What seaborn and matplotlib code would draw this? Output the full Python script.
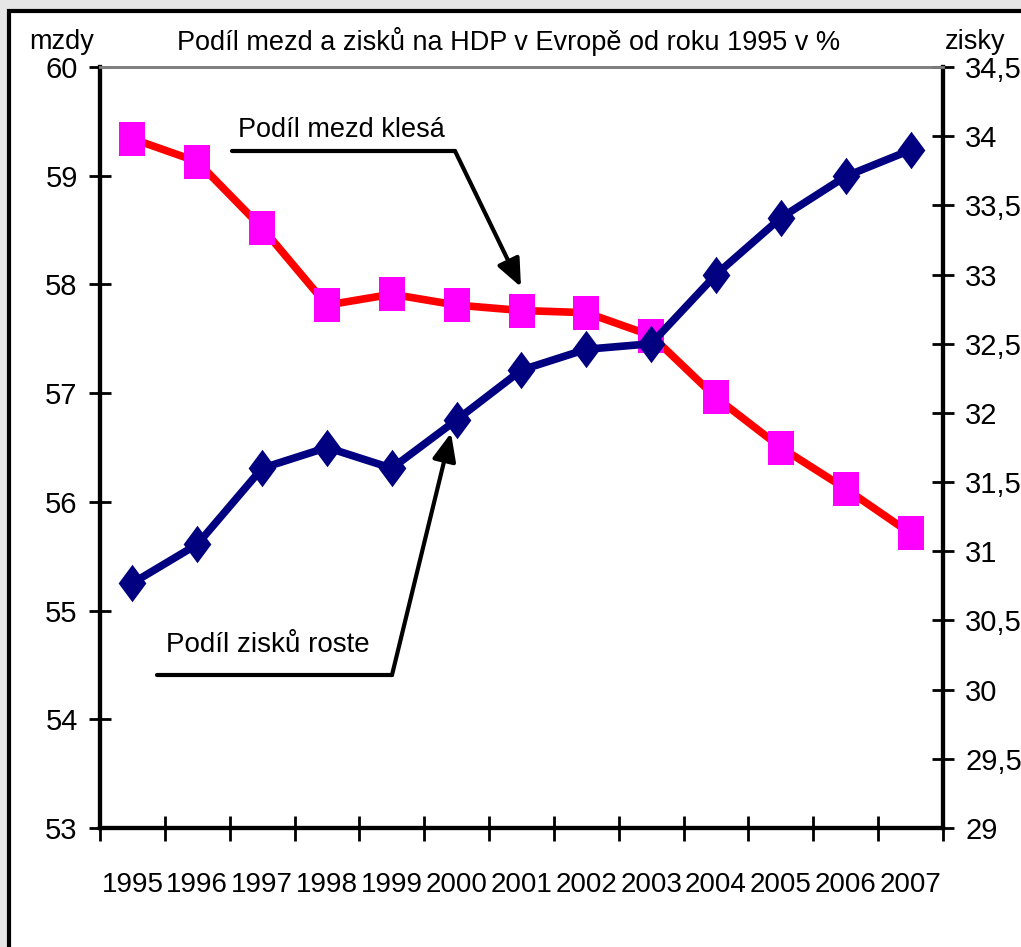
import matplotlib
matplotlib.use("Agg")
import matplotlib.pyplot as plt
import seaborn as sns
import numpy as np
from matplotlib.patches import Rectangle
from matplotlib import font_manager

sns.set_theme(style="white")
names = {f.name for f in font_manager.fontManager.ttflist}
narrow = "Liberation Sans Narrow" in names
fam = ["Liberation Sans Narrow", "Liberation Sans", "DejaVu Sans"] if narrow else ["Liberation Sans", "DejaVu Sans"]
plt.rcParams['font.family'] = fam
plt.rcParams['text.color'] = "black"
plt.rcParams['xtick.color'] = "black"
plt.rcParams['ytick.color'] = "black"
plt.rcParams['xtick.labelcolor'] = "black"
plt.rcParams['ytick.labelcolor'] = "black"

years = ["1995", "1996", "1997", "1998", "1999", "2000", "2001",
         "2002", "2003", "2004", "2005", "2006", "2007"]
wages = [59.34, 59.13, 58.52, 57.81, 57.91, 57.81, 57.76,
         57.74, 57.53, 56.96, 56.50, 56.12, 55.71]
profits = [30.77, 31.05, 31.60, 31.75, 31.60, 31.95, 32.31,
           32.46, 32.50, 33.00, 33.41, 33.71, 33.90]
left_ticks = [53, 54, 55, 56, 57, 58, 59, 60]
right_ticks = [29, 29.5, 30, 30.5, 31, 31.5, 32, 32.5, 33, 33.5, 34, 34.5]
title = "Podíl mezd a zisků na HDP v Evropě od roku 1995 v %"
left_label = "mzdy"
right_label = "zisky"
note_wages = "Podíl mezd klesá"
note_profits = "Podíl zisků roste"

W, H = 1021, 947
fig = plt.figure(figsize=(W / 100, H / 100), dpi=100)
fig.patch.set_facecolor("#e6e6e6")
# white frame (continues beyond the right/bottom edges)
fig.patches.append(Rectangle((9 / W, -0.1), 1.2, 1 - 11 / H + 0.1, transform=fig.transFigure,
                             facecolor="white", edgecolor="black", lw=3, zorder=-10))

ax = fig.add_axes([100 / W, 1 - 828 / H, 843 / W, (828 - 67) / H])
ax.set_facecolor("none")
ax2 = ax.twinx()
ax2.set_facecolor("none")

fs = 22 if narrow else 19.5
fsy = 22 if narrow else 21
fsx = 22 if narrow else 20
x = np.arange(len(years))

sq = [(-0.37, -0.5), (0.37, -0.5), (0.37, 0.5), (-0.37, 0.5), (-0.37, -0.5)]
dm = [(0, -0.5), (0.37, 0), (0, 0.5), (-0.37, 0), (0, -0.5)]

sns.lineplot(x=x, y=wages, ax=ax, color="red", lw=5.5, marker=sq, markersize=25,
             markerfacecolor="magenta", markeredgecolor="magenta", markeredgewidth=0)
sns.lineplot(x=x, y=profits, ax=ax2, color="#000080", lw=5.5, marker=dm, markersize=27,
             markerfacecolor="#000080", markeredgecolor="#000080", markeredgewidth=0)

for a in (ax, ax2):
    a.set_xlim(-0.5, len(years) - 0.5)
    a.set_xlabel("")
    a.set_ylabel("")
    a.grid(False)

ax.set_ylim(53, 60)
ax2.set_ylim(29, 34.5)
ax.set_yticks(left_ticks)
ax.set_yticklabels([str(v) for v in left_ticks], fontsize=fsy)
ax2.set_yticks(right_ticks)
ax2.set_yticklabels([("%g" % v).replace(".", ",") for v in right_ticks], fontsize=fsy)

ax.set_xticks(x)
ax.set_xticklabels(years, fontsize=fsx)
ax.set_xticks(np.arange(-0.5, len(years), 1), minor=True)
ax.tick_params(axis="x", which="major", length=0, pad=32, labelsize=fsx)
ax.tick_params(axis="x", which="minor", direction="inout", length=18, width=2, color="black", bottom=True)
ax.tick_params(axis="y", direction="inout", length=16, width=2, color="black", pad=8, labelsize=fsy, left=True)
ax2.tick_params(axis="y", direction="inout", length=16, width=2, color="black", pad=8, labelsize=fsy, right=True)
ax2.tick_params(axis="x", length=0)

for a in (ax, ax2):
    for s in ("left", "right", "bottom"):
        a.spines[s].set_color("black")
        a.spines[s].set_linewidth(3)
        a.spines[s].set_visible(True)
    a.spines["top"].set_color("#808080")
    a.spines["top"].set_linewidth(2)
    a.spines["top"].set_visible(True)

fig.text(509 / W, 1 - 42 / H, title, ha="center", va="center", fontsize=fs)
fig.text(62 / W, 1 - 42 / H, left_label, ha="center", va="center", fontsize=fs)
fig.text(975 / W, 1 - 42 / H, right_label, ha="center", va="center", fontsize=fs)

def fp(px, py):
    return (px / W, 1 - py / H)

fig.text(*fp(341, 130), note_wages, ha="center", va="center", fontsize=fs)
fig.lines.append(plt.Line2D([232 / W, 455 / W], [1 - 151 / H, 1 - 151 / H],
                            transform=fig.transFigure, color="black", lw=3))
ax.annotate("", xy=fp(521, 287), xycoords="figure fraction", xytext=fp(455, 151),
            textcoords="figure fraction",
            arrowprops=dict(arrowstyle="-|>,head_length=1.4,head_width=0.6", color="black", lw=3,
                            shrinkA=0, shrinkB=0))

fig.text(*fp(268, 645), note_profits, ha="center", va="center", fontsize=20)
fig.lines.append(plt.Line2D([157 / W, 392 / W], [1 - 675 / H, 1 - 675 / H],
                            transform=fig.transFigure, color="black", lw=3))
ax.annotate("", xy=fp(451, 433), xycoords="figure fraction", xytext=fp(392, 675),
            textcoords="figure fraction",
            arrowprops=dict(arrowstyle="-|>,head_length=1.4,head_width=0.6", color="black", lw=3,
                            shrinkA=0, shrinkB=0))

fig.savefig("out.png", dpi=100, facecolor=fig.get_facecolor())
